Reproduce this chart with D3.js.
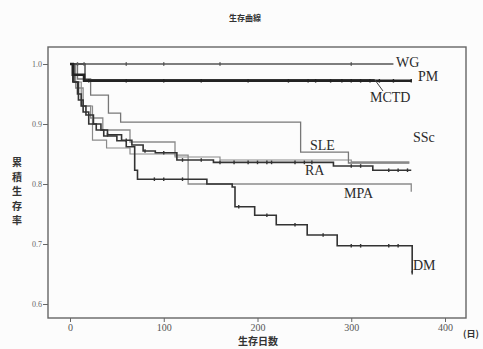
<!DOCTYPE html>
<html><head><meta charset="utf-8">
<script src="https://cdn.jsdelivr.net/npm/d3@7"></script>
<style>body{margin:0;background:#fff}svg{display:block}</style>
</head><body>
<script>
// ---- data ----
const title = "生存曲線";
const yTitle = ["累","積","生","存","率"];
const xTitle = "生存日数";
const xUnit = "(日)";
const xTicks = [0, 100, 200, 300, 400];
const yTicks = [0.6, 0.7, 0.8, 0.9, 1.0];
const groups = ["WG", "PM", "MCTD", "SLE", "SSc", "RA", "MPA", "DM"];

// Kaplan-Meier steps: [day, survival] ; last day of follow-up
const WG   = [[0, 1.0]];
const WGend = 345;
const PM   = [[0, 1.0], [3, 0.982], [15, 0.972]];
const PMend = 364;
const MCTD = [[0, 1.0], [16, 0.974]];
const MCTDend = 325;
const SLE  = [[0, 1.0], [8, 0.975], [22, 0.948], [41, 0.918], [54, 0.903], [246, 0.853], [297, 0.835]];
const SLEend = 362;
const SSc  = [[0, 1.0], [5, 0.97], [12, 0.93], [24, 0.873], [39, 0.86], [64, 0.85], [112, 0.845], [160, 0.84], [300, 0.837]];
const SScend = 362;
const RA   = [[0, 1.0], [3, 0.97], [8, 0.95], [12, 0.93], [17, 0.915], [25, 0.9], [33, 0.89], [40, 0.882], [55, 0.873], [66, 0.865], [78, 0.855], [91, 0.852], [114, 0.84], [153, 0.836], [281, 0.83], [323, 0.823]];
const RAend = 364;
const MPA  = [[0, 1.0], [6, 0.96], [14, 0.93], [22, 0.91], [35, 0.89], [64, 0.87], [112, 0.848], [126, 0.8], [364, 0.787]];
const MPAend = 364;
const DM   = [[0, 1.0], [4, 0.97], [9, 0.94], [14, 0.92], [20, 0.9], [28, 0.89], [36, 0.88], [50, 0.872], [60, 0.862], [69, 0.823], [72, 0.808], [146, 0.8], [173, 0.795], [176, 0.762], [197, 0.748], [220, 0.732], [253, 0.715], [285, 0.697], [365, 0.652]];
const DMend = 365;

// censoring marks (days)
const WGcens = [8, 15, 60, 100, 160, 300];
const PMcens = [20, 60, 100, 140, 190, 233, 254, 262, 278, 290, 300, 310, 320, 330, 345, 364];
const RAcens = [40, 60, 80, 100, 120, 140, 160, 175, 190, 200, 210, 215, 240, 250, 258, 300, 310, 340, 350, 360];
const DMcens = [90, 100, 120, 180, 210, 240, 270, 300, 310, 340, 350, 365];

// ---- drawing ----
const W = 483, H = 349;
const svg = d3.select("body").append("svg").attr("width", W).attr("height", H);
svg.append("rect").attr("width", W).attr("height", H).attr("fill", "#fcfcfc");

const x = d3.scaleLinear().domain([0, 400]).range([70, 445]);
const y = d3.scaleLinear().domain([0.6, 1.0]).range([304, 64]);
const box = {l: 48, r: 466, t: 47, b: 318};

svg.append("rect").attr("x", box.l).attr("y", box.t).attr("width", box.r - box.l).attr("height", box.b - box.t)
  .attr("fill", "none").attr("stroke", "#666").attr("stroke-width", 1.4);

const serif = "'Liberation Serif','DejaVu Serif',serif";
const cjk = "'Noto Sans CJK JP','Noto Sans CJK SC',sans-serif";

// axes
const xAxis = d3.axisBottom(x).tickValues(xTicks).tickSize(4).tickFormat(d3.format("d"));
const gx = svg.append("g").attr("transform", `translate(0,${box.b})`).call(xAxis);
gx.select(".domain").remove();
gx.selectAll("line").attr("stroke", "#666");
gx.selectAll("text").attr("font-family", serif).attr("font-size", 10).attr("fill", "#555").attr("dy", "0.55em");

const yAxis = d3.axisLeft(y).tickValues(yTicks).tickSize(5).tickFormat(d3.format(".1f"));
const gy = svg.append("g").attr("transform", `translate(${box.l},0)`).call(yAxis);
gy.select(".domain").remove();
gy.selectAll("line").attr("stroke", "#666");
gy.selectAll("text").attr("font-family", serif).attr("font-size", 8).attr("fill", "#666").attr("x", -6);

// titles
svg.append("text").attr("x", 245).attr("y", 21).attr("text-anchor", "middle")
  .attr("font-family", cjk).attr("font-weight", "bold").attr("font-size", 8).attr("fill", "#333").text(title);
svg.selectAll(".yt").data(yTitle).join("text").attr("class", "yt")
  .attr("x", 17).attr("y", (d, i) => 166 + i * 14.5).attr("text-anchor", "middle")
  .attr("font-family", cjk).attr("font-weight", "bold").attr("font-size", 10).attr("fill", "#333").text(d => d);
svg.append("text").attr("x", 258).attr("y", 345).attr("text-anchor", "middle")
  .attr("font-family", cjk).attr("font-weight", "bold").attr("font-size", 10).attr("fill", "#333").text(xTitle);
svg.append("text").attr("x", 471).attr("y", 337).attr("text-anchor", "middle")
  .attr("font-family", cjk).attr("font-weight", "bold").attr("font-size", 9).attr("fill", "#333").text(xUnit);

// curves
const line = d3.line().x(d => x(d[0])).y(d => y(d[1])).curve(d3.curveStepAfter);
function withEnd(steps, end) { return steps.concat([[end, steps[steps.length - 1][1]]]); }
function valAt(steps, day) { let v = steps[0][1]; for (const s of steps) if (s[0] <= day) v = s[1]; return v; }

const curves = [
  {steps: MPA, end: MPAend, color: "#8a8a8a", w: 1.3},
  {steps: SSc, end: SScend, color: "#8a8a8a", w: 1.2},
  {steps: SLE, end: SLEend, color: "#777", w: 1.3},
  {steps: WG, end: WGend, color: "#555", w: 1.3},
  {steps: MCTD, end: MCTDend, color: "#444", w: 1.4},
  {steps: RA, end: RAend, color: "#333", w: 1.6},
  {steps: DM, end: DMend, color: "#333", w: 1.6},
  {steps: PM, end: PMend, color: "#222", w: 2.6},
];
curves.forEach(c => {
  svg.append("path").datum(withEnd(c.steps, c.end)).attr("d", line)
    .attr("fill", "none").attr("stroke", c.color).attr("stroke-width", c.w);
});

function marks(steps, days, color) {
  svg.append("g").selectAll("line").data(days).join("line")
    .attr("x1", d => x(d)).attr("x2", d => x(d))
    .attr("y1", d => y(valAt(steps, d)) - 1.8).attr("y2", d => y(valAt(steps, d)) + 1.8)
    .attr("stroke", color).attr("stroke-width", 1.4);
}
marks(WG, WGcens, "#555");
marks(PM, PMcens, "#222");
marks(RA, RAcens, "#333");
marks(DM, DMcens, "#333");

// group labels
const labelPos = [
  ["WG", 396, 67], ["PM", 418, 81], ["MCTD", 370, 102], ["SSc", 413, 142],
  ["SLE", 310, 150], ["RA", 305, 175], ["MPA", 344, 198], ["DM", 413, 270]
];
svg.selectAll(".gl").data(labelPos).join("text").attr("class", "gl")
  .attr("x", d => d[1]).attr("y", d => d[2])
  .attr("font-family", serif).attr("font-size", 14).attr("fill", "#2a2a2a").text(d => d[0]);
// MCTD leader
svg.append("line").attr("x1", x(325)).attr("y1", y(0.974)).attr("x2", 383).attr("y2", 91)
  .attr("stroke", "#444").attr("stroke-width", 1);
</script>
</body></html>
